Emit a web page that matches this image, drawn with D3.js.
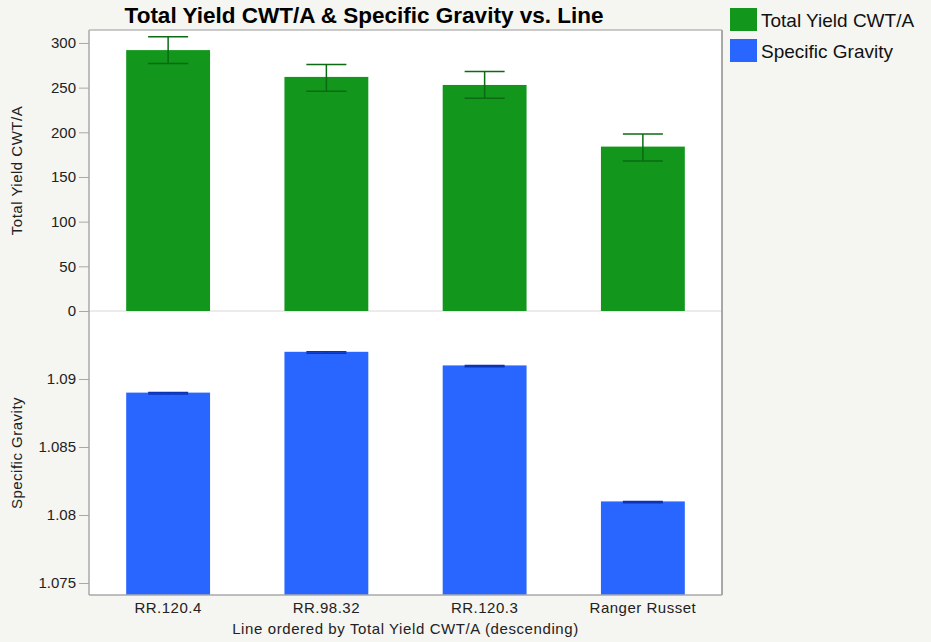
<!DOCTYPE html>
<html>
<head>
<meta charset="utf-8">
<script src="https://cdn.jsdelivr.net/npm/d3@7"></script>
<style>
  html, body { margin: 0; padding: 0; background: #f5f5f1; }
  svg { display: block; font-family: "Liberation Sans", Arial, Helvetica, sans-serif; }
</style>
</head>
<body>
<svg id="chart" width="931" height="642"></svg>
<script>
// Lines, ordered by total yield (descending)
const lines = ["RR.120.4", "RR.98.32", "RR.120.3", "Ranger Russet"];

// Total yield (CWT/A) with error bar extents
const yieldMean = [292, 262, 253, 184];
const yieldLow  = [277, 246, 238, 168];
const yieldHigh = [307, 276, 268, 198];

// Specific gravity with error bar extents
const sgMean = [1.089, 1.092, 1.091, 1.081];
const sgLow  = [1.0889, 1.0919, 1.0909, 1.0809];
const sgHigh = [1.0890, 1.0920, 1.0910, 1.0810];

const yieldTicks = [0, 50, 100, 150, 200, 250, 300];
const sgTicks = [1.075, 1.08, 1.085, 1.09];

const svg = d3.select("#chart");
const plotL = 89, plotR = 722, plotT = 30, plotMid = 311, plotB = 595;
const labelFont = "'Liberation Sans', Arial, sans-serif";

const x = d3.scaleBand().domain(lines).range([plotL, plotR]).paddingInner(0.47).paddingOuter(0.235);
const yTop = d3.scaleLinear().domain([0, 314.5]).range([plotMid, plotT]);
const yBot = d3.scaleLinear().domain([1.07412, 1.09500]).range([plotB, plotMid]);

// plot background
svg.append("rect").attr("x", plotL).attr("y", plotT).attr("width", plotR - plotL).attr("height", plotB - plotT).attr("fill", "#fff");

// divider between panels
svg.append("line").attr("x1", plotL).attr("x2", plotR).attr("y1", plotMid).attr("y2", plotMid)
  .attr("stroke", "#d8d8d8").attr("stroke-width", 1);

function drawPanel(yScale, means, lows, highs, ticks, fmt, fill, errColor, base) {
  const g = svg.append("g");
  g.selectAll("rect.bar").data(lines).join("rect")
    .attr("x", d => x(d))
    .attr("width", x.bandwidth())
    .attr("y", (d, i) => yScale(means[i]))
    .attr("height", (d, i) => base - yScale(means[i]))
    .attr("fill", fill);
  const capW = 40;
  const err = g.selectAll("g.err").data(lines).join("g").attr("stroke", errColor).attr("stroke-width", 1.5);
  err.append("line")
    .attr("x1", d => x(d) + x.bandwidth() / 2).attr("x2", d => x(d) + x.bandwidth() / 2)
    .attr("y1", (d, i) => yScale(highs[i])).attr("y2", (d, i) => yScale(lows[i]));
  err.append("line")
    .attr("x1", d => x(d) + x.bandwidth() / 2 - capW / 2).attr("x2", d => x(d) + x.bandwidth() / 2 + capW / 2)
    .attr("y1", (d, i) => yScale(highs[i])).attr("y2", (d, i) => yScale(highs[i]));
  err.append("line")
    .attr("x1", d => x(d) + x.bandwidth() / 2 - capW / 2).attr("x2", d => x(d) + x.bandwidth() / 2 + capW / 2)
    .attr("y1", (d, i) => yScale(lows[i])).attr("y2", (d, i) => yScale(lows[i]));

  const ax = svg.append("g").attr("transform", `translate(${plotL},0)`)
    .call(d3.axisLeft(yScale).tickValues(ticks).tickFormat(fmt).tickSize(10).tickPadding(3));
  ax.select(".domain").remove();
  ax.selectAll(".tick line").attr("stroke", "#a8a8a8");
  ax.selectAll(".tick text").attr("font-size", 15).attr("fill", "#222")
    .attr("font-family", labelFont);
}

drawPanel(yTop, yieldMean, yieldLow, yieldHigh, yieldTicks, d3.format("d"), "#12961c", "#0b6a12", plotMid);
drawPanel(yBot, sgMean, sgLow, sgHigh, sgTicks, d => String(+d.toFixed(3)), "#2966ff", "#0a33b8", plotB);

// frame: left axis, top, right, bottom
svg.append("line").attr("x1", plotL).attr("x2", plotL).attr("y1", plotT).attr("y2", plotB).attr("stroke", "#a8a8a8").attr("stroke-width", 1.5);
svg.append("line").attr("x1", plotL).attr("x2", plotR).attr("y1", plotT).attr("y2", plotT).attr("stroke", "#b8b8b8").attr("stroke-width", 1.5);
svg.append("line").attr("x1", plotR).attr("x2", plotR).attr("y1", plotT).attr("y2", plotB).attr("stroke", "#a8a8a8").attr("stroke-width", 2);
svg.append("line").attr("x1", plotL).attr("x2", plotR).attr("y1", plotB).attr("y2", plotB).attr("stroke", "#a8a8a8").attr("stroke-width", 1.5);

// x axis labels
const xa = svg.append("g").attr("transform", `translate(0,${plotB})`)
  .call(d3.axisBottom(x).tickSize(0).tickPadding(7));
xa.select(".domain").remove();
xa.selectAll(".tick text").attr("font-size", 15).attr("fill", "#222")
  .attr("letter-spacing", "0.5px").attr("font-family", labelFont);

svg.append("text").attr("x", (plotL + plotR) / 2).attr("y", 634).attr("text-anchor", "middle")
  .attr("font-size", 15).attr("letter-spacing", "0.6px").attr("fill", "#222")
  .text("Line ordered by Total Yield CWT/A (descending)");

// y axis titles
svg.append("text").attr("transform", `translate(22,${(plotT + plotMid) / 2}) rotate(-90)`).attr("text-anchor", "middle")
  .attr("font-size", 15).attr("letter-spacing", "0.5px").attr("fill", "#222").text("Total Yield CWT/A");
svg.append("text").attr("transform", `translate(22,${(plotMid + plotB) / 2}) rotate(-90)`).attr("text-anchor", "middle")
  .attr("font-size", 15).attr("letter-spacing", "0.5px").attr("fill", "#222").text("Specific Gravity");

// title
svg.append("text").attr("x", 364).attr("y", 23).attr("text-anchor", "middle")
  .attr("font-size", 22.5).attr("font-weight", "bold").attr("fill", "#000")
  .text("Total Yield CWT/A & Specific Gravity vs. Line");

// legend
const legendItems = [["Total Yield CWT/A", "#12961c"], ["Specific Gravity", "#2966ff"]];
const lg = svg.selectAll("g.legend").data(legendItems).join("g")
  .attr("transform", (d, i) => `translate(730,${8 + i * 31})`);
lg.append("rect").attr("width", 27).attr("height", 23).attr("fill", d => d[1]);
lg.append("text").attr("x", 31).attr("y", 18.5).attr("font-size", 19).attr("fill", "#111").text(d => d[0]);
</script>
</body>
</html>
